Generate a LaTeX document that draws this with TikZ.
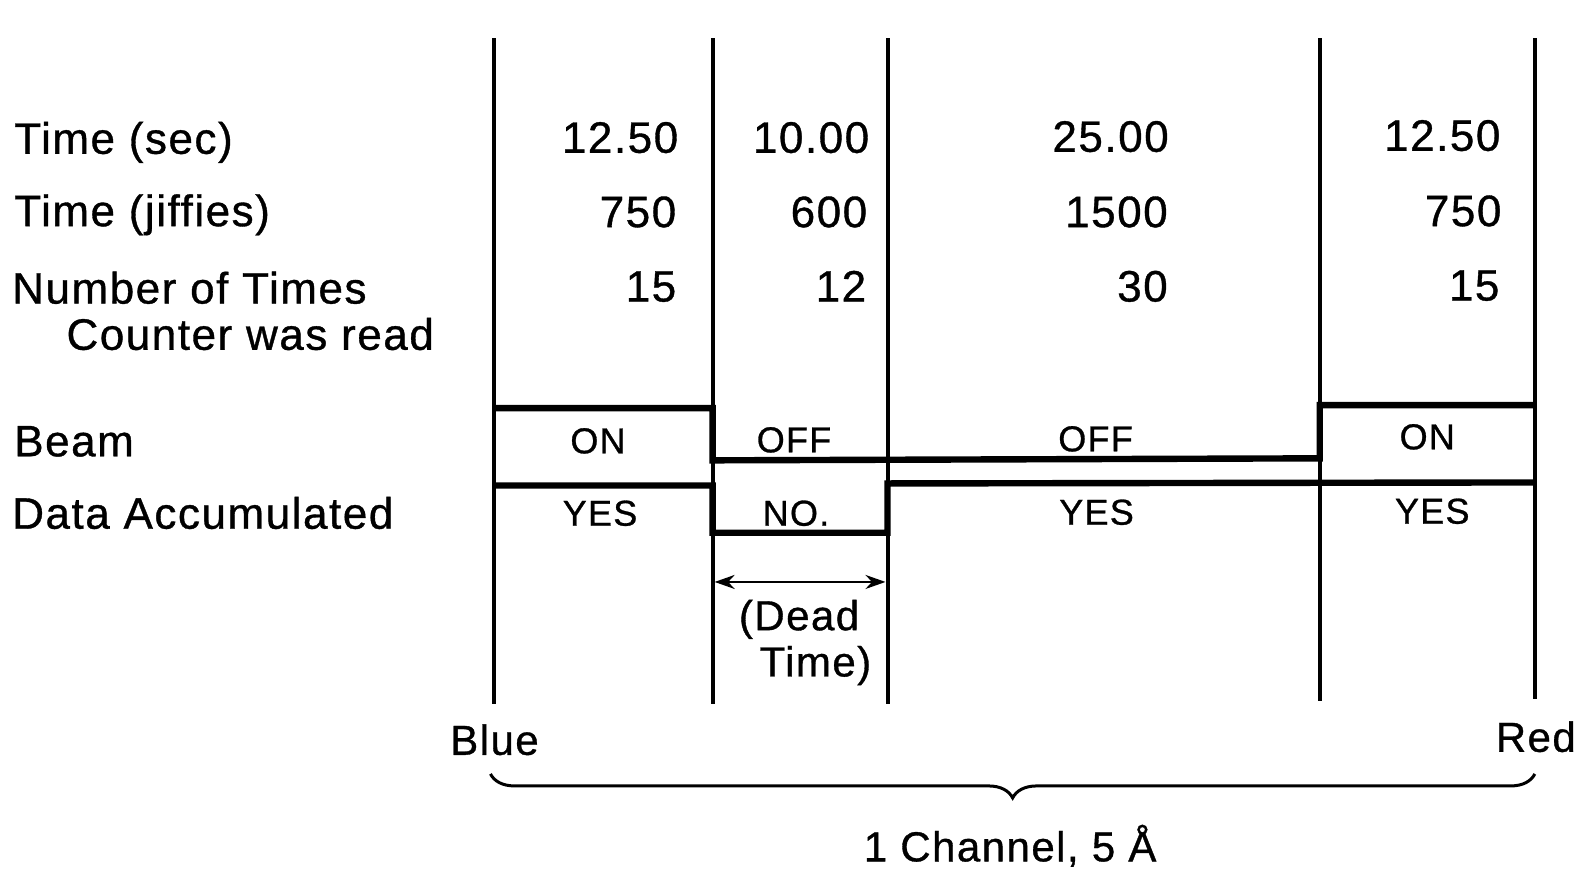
\documentclass[tikz,border=0pt]{standalone}
\usepackage{fontspec}
\setmainfont{Liberation Sans}[LetterSpace=3.5,FakeBold=0.8]
\usetikzlibrary{arrows.meta,decorations.pathreplacing}
\begin{document}
\begin{tikzpicture}[x=1.005pt,y=-1.005pt,
  lbl/.style={font=\fontsize{44}{50}\selectfont, inner sep=0pt, anchor=base west},
  val/.style={font=\fontsize{44}{50}\selectfont, inner sep=0pt, anchor=base east},
  st/.style={font=\fontsize{36}{42}\selectfont, inner sep=0pt, anchor=base},
  big/.style={font=\fontsize{42}{46}\selectfont, inner sep=0pt},
  vline/.style={line width=4pt},
  sig/.style={line width=6.4pt, line join=miter, line cap=butt}]
\useasboundingbox (0,0) rectangle (1568,867);
% column boundaries
\foreach \n/\x/\b in {c1/491/700, c2/709/700, c3/883/700, c4/1313/697, c5/1527/695}{
  \coordinate (\n t) at (\x,38);
  \coordinate (\n b) at (\x,\b);
  \draw[vline] (\n t) -- (\n b);
}
% row labels
\node[lbl] (lsec) at (14,153) {Time (sec)};
\node[lbl] (ljif) at (14,225) {Time (jiffies)};
\node[lbl] (lnum) at (12,302) {Number of Times};
\node[lbl] (lcnt) at (66,348) {Counter was read};
\node[lbl] (lbeam) at (14,454) {Beam};
\node[lbl] (ldata) at (12,526) {Data Accumulated};
% values
\node[val] (s1) at (675,152) {12.50};
\node[val] (s2) at (865,152) {10.00};
\node[val] (s3) at (1163,151) {25.00};
\node[val] (s4) at (1493,150) {12.50};
\node[val] (j1) at (673,226) {750};
\node[val] (j2) at (863,226) {600};
\node[val] (j3) at (1162,226) {1500};
\node[val] (j4) at (1494,225) {750};
\node[val] (n1) at (673,300) {15};
\node[val] (n2) at (862,300) {12};
\node[val] (n3) at (1162,300) {30};
\node[val] (n4) at (1492,299) {15};
% beam signal
\draw[sig] (491,406) -- (709,406) -- (709,458) -- (1313,456) -- (1313,403) -- (1527,403);
% data signal
\draw[sig] (491,483) -- (709,483) -- (709,530) -- (883,530) -- (883,481) -- (1527,480);
% states
\node[st] (b1) at (595,451) {ON};
\node[st] (b2) at (790,450) {OFF};
\node[st] (b3) at (1090,449) {OFF};
\node[st] (b4) at (1420,447) {ON};
\node[st] (d1) at (597,523) {YES};
\node[st] (d2) at (792,523) {NO.};
\node[st] (d3) at (1091,522) {YES};
\node[st] (d4) at (1425,521) {YES};
% dead time
\coordinate (dl) at (711,579);
\coordinate (dr) at (881,579);
\draw[line width=2.4pt, {Stealth[length=20pt,width=14pt]}-{Stealth[length=20pt,width=14pt]}] (dl) -- (dr);
\node[big, anchor=base west] (dead) at (735,627) {(Dead};
\node[big, anchor=base east] (time) at (867,673) {Time)};
% ends
\node[big, anchor=base] (blue) at (492,751) {Blue};
\node[big, anchor=base east] (red) at (1568,748) {Red};
\coordinate (bl) at (488,770);
\coordinate (br) at (1527,770);
\draw[line width=3pt, decorate, decoration={brace, amplitude=24pt, mirror}] (bl) -- (br);
\node[big, anchor=base] (chan) at (1005,857) {1 Channel, 5 Å};
\node[font=\fontsize{26}{30}\selectfont, inner sep=0pt, anchor=base west] (xbl) at (1352,886) {XBL 806-10430};
\end{tikzpicture}
\end{document}
